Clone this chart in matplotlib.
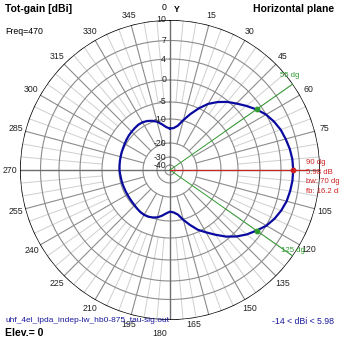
import numpy as np
import matplotlib
matplotlib.use("Agg")
import matplotlib.pyplot as plt

plt.rcParams['font.family'] = ['Liberation Sans', 'DejaVu Sans']

# ---- pattern data (horizontal plane, total gain in dBi) ----
azimuth_deg = list(range(0, 360, 5))
gain_dbi = [
    -14.0, -13.7, -12.5, -9.8, -7.5, -5.0, -3.1, -1.6, -0.25, 0.76,
    1.85, 2.98, 3.98, 4.6, 5.1, 5.42, 5.72, 5.92, 5.98, 5.93,
    5.78, 5.58, 5.2, 4.7, 4.05, 2.98, 1.95, 0.76, -0.7, -2.5,
    -4.1, -5.6, -7.8, -9.8, -12.4, -13.5, -13.9, -13.1, -11.9, -10.8,
    -10.2, -9.85, -9.76, -9.85, -10.1, -10.4, -10.6, -10.7, -10.75, -10.75,
    -10.7, -10.6, -10.55, -10.4, -10.22, -10.15, -10.05, -9.97, -9.85, -9.76,
    -9.6, -9.4, -9.2, -9.06, -8.9, -8.75, -8.8, -9.1, -9.6, -10.4,
    -11.9, -13.3,
]

ring_levels = [7, 4, 0, -5, -10, -20, -30, -40]
outer_level = 10
angle_ticks = list(range(0, 360, 15))

peak_az = 90
peak_gain = 5.98
bw_low_az = 55
bw_high_az = 125
half_power_gain = 2.98
beamwidth = 70
front_back = 16.2
min_gain = -14
freq_mhz = 470
elevation = 0
file_name = "uhf_4el_lpda_indep-lw_hb0-875_tau-sig.out"

# ---- radial scale of the chart (dB -> radius, outer ring = 150) ----
scale_db = [-50, -40, -30, -20, -10, -5, 0, 4, 7, 10, 30]
scale_r = [0, 5, 13, 27, 51, 68, 90, 111, 129.5, 150, 287]


def fwd(v):
    return np.interp(v, scale_db, scale_r)


def inv(v):
    return np.interp(v, scale_r, scale_db)


W = H = 339
fig = plt.figure(figsize=(W / 100, H / 100), dpi=100, facecolor='white')
ax = fig.add_axes([20 / W, 19 / H, 300 / W, 300 / H], projection='polar')
ax.set_rscale('function', functions=(fwd, inv))
ax.set_theta_zero_location('N')
ax.set_theta_direction(-1)
ax.set_ylim(-50, outer_level)
ax.set_xticks([])
ax.set_yticks([])
ax.grid(False)
ax.spines['polar'].set_visible(False)
ax.set_facecolor('white')


def px(x, y):
    return x / W, 1 - y / H


th_full = np.linspace(0, 2 * np.pi, 721)

# spokes
for a in range(0, 360, 5):
    t = np.radians(a)
    if a % 90 == 0:
        ax.plot([t, t], [-50, outer_level], color='#6e6e6e', lw=1.0, zorder=2)
    elif a % 15 == 0:
        ax.plot([t, t], [-20, outer_level], color='#8c8c8c', lw=0.8, zorder=1)
    else:
        ax.plot([t, t], [-5, outer_level], color='#cfcfcf', lw=0.7, zorder=0.5)

# rings
for lev in ring_levels:
    ax.plot(th_full, np.full_like(th_full, lev), color='#8c8c8c', lw=0.8, zorder=1)
ax.plot(th_full, np.full_like(th_full, outer_level), color='black', lw=1.1, zorder=3)

# ring labels
for lev in [outer_level] + ring_levels:
    ax.annotate(str(lev), xy=(0, lev), xytext=(-4, 0), textcoords='offset pixels',
                ha='right', va='center', fontsize=6.3, color='#222222', zorder=6)

# angle labels
label_r = inv(160)
for a in angle_ticks:
    if a in (0, 90):
        continue
    t = np.radians(a)
    dx = 0
    dy = 0
    if a == 165:
        dx = -18
    if a == 180:
        dx = -10
        dy = -3
    ax.annotate(str(a), xy=(t, label_r), xytext=(dx, dy), textcoords='offset pixels',
                ha='center', va='center', fontsize=6.3, color='#222222',
                annotation_clip=False, zorder=6)
ax.annotate('0', xy=(0, inv(162)), xytext=(-3, 0), textcoords='offset pixels',
            ha='right', va='center', fontsize=6.3, annotation_clip=False)
ax.annotate('Y', xy=(0, inv(161)), xytext=(4, 0), textcoords='offset pixels',
            ha='left', va='center', fontsize=6.3, fontweight='bold', annotation_clip=False)

# beamwidth markers
green = '#2f9a2f'
for az in (bw_low_az, bw_high_az):
    t = np.radians(az)
    ax.plot([t, t], [-50, outer_level], color=green, lw=0.7, zorder=4)
    ax.plot([t], [half_power_gain], 'o', color=green, ms=3.2, zorder=7)
ax.annotate(f'{bw_low_az} dg', xy=(np.radians(bw_low_az), outer_level), xytext=(-3, 8),
            textcoords='offset pixels', ha='center', va='center', fontsize=5.6,
            color=green, annotation_clip=False, zorder=8)
ax.annotate(f'{bw_high_az} dg', xy=(np.radians(bw_high_az), outer_level), xytext=(0, 6),
            textcoords='offset pixels', ha='center', va='center', fontsize=5.6,
            color=green, annotation_clip=False, zorder=8)

# main beam direction
red = '#cc2222'
tp = np.radians(peak_az)
ax.plot([tp, tp], [-50, inv(136)], color=red, lw=0.8, zorder=4)

# pattern
th = np.radians(azimuth_deg + [azimuth_deg[0]])
g = gain_dbi + [gain_dbi[0]]
ax.plot(th, g, color='#0a0aa0', lw=1.6, zorder=5)
ax.plot([tp], [peak_gain], 'o', color=red, ms=3.2, zorder=7)

# annotation block next to the beam line
red_lines = [f'{peak_az} dg', f'{peak_gain:.2f} dB', f'bw: {beamwidth} dg', f'fb: {front_back} dB']
for i, s in enumerate(red_lines):
    fig.text(*px(306, 163 + i * 9.4), s, ha='left', va='center', fontsize=5.6, color=red)

# header / footer text
fig.text(*px(5, 9), 'Tot-gain [dBi]', ha='left', va='center', fontsize=7.5, fontweight='bold')
fig.text(*px(5, 31), f'Freq={freq_mhz}', ha='left', va='center', fontsize=6.3)
fig.text(*px(334, 9), 'Horizontal plane', ha='right', va='center', fontsize=7.5, fontweight='bold')
fig.text(*px(5, 321), file_name, ha='left', va='center', fontsize=6.0, color='#1a1aa0',
         backgroundcolor='none')
fig.text(*px(5, 333), f'Elev.= {elevation}', ha='left', va='center', fontsize=7.5, fontweight='bold')
fig.text(*px(334, 321), f'{min_gain} < dBi < {peak_gain:.2f}', ha='right', va='center',
         fontsize=6.3, color='#1a1aa0')

fig.savefig('out.png', dpi=100, facecolor='white')
